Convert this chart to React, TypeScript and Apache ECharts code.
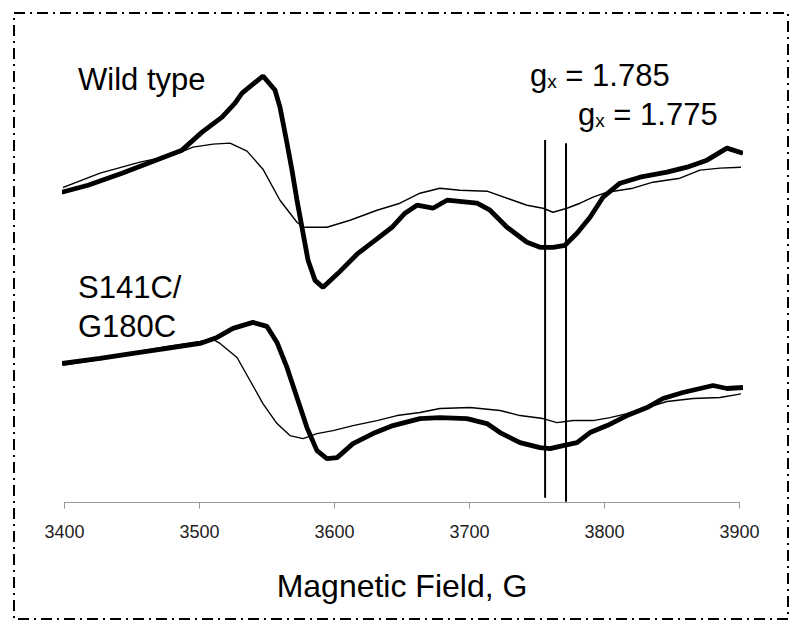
import React, { useEffect, useRef } from "react";
import * as echarts from "echarts";

// Magnetic field (G) tick labels
const xTicks = [3400, 3500, 3600, 3700, 3800, 3900];

// Wild type, thick trace (field G, signal a.u.)
const wtBoldField = [3397.9, 3417.4, 3442.6, 3461.9, 3487.0, 3501.9, 3516.7, 3526.3, 3531.5, 3547.0, 3555.9, 3559.6, 3564.8, 3568.5, 3572.2, 3575.9, 3580.4, 3585.6, 3591.5, 3602.6, 3617.4, 3630.0, 3642.6, 3652.2, 3661.1, 3672.9, 3683.3, 3705.6, 3715.2, 3727.8, 3742.6, 3752.2, 3761.9, 3770.7, 3779.6, 3789.3, 3798.9, 3811.5, 3826.3, 3846.3, 3861.1, 3875.9, 3890.7, 3902.6];
const wtBoldSignal = [310, 317, 329, 339, 352, 370, 385, 399, 409, 426, 412, 395, 359, 332, 302, 275, 242, 222, 215, 229, 249, 262, 275, 289, 297, 294, 302, 299, 292, 275, 260, 255, 255, 257, 269, 285, 305, 319, 325, 330, 335, 342, 354, 349];

// Wild type, thin trace
const wtThinField = [3397.4, 3426.3, 3455.9, 3480.4, 3495.2, 3510.0, 3522.6, 3535.2, 3547.0, 3559.6, 3572.2, 3576.7, 3594.4, 3611.5, 3631.5, 3648.5, 3663.3, 3678.1, 3692.9, 3713.0, 3730.0, 3742.6, 3754.4, 3761.9, 3772.2, 3781.9, 3791.5, 3801.9, 3821.1, 3835.9, 3855.9, 3870.7, 3885.6, 3902.6];
const wtThinSignal = [314, 329, 340, 347, 355, 358, 359, 351, 333, 302, 280, 275, 275, 282, 292, 299, 309, 314, 312, 311, 303, 297, 294, 290, 294, 299, 305, 310, 314, 320, 324, 332, 334, 335];

// S141C/G180C, thick trace
const mutBoldField = [3398.1, 3426.3, 3450.7, 3475.9, 3500.4, 3513.0, 3524.8, 3539.6, 3550.0, 3557.4, 3564.8, 3572.2, 3579.6, 3587.0, 3594.4, 3601.9, 3613.7, 3628.5, 3643.3, 3663.3, 3678.1, 3698.1, 3712.9, 3722.6, 3737.4, 3752.2, 3759.6, 3769.3, 3779.6, 3789.3, 3801.9, 3816.7, 3831.5, 3843.3, 3858.1, 3880.4, 3890.7, 3902.6];
const mutBoldSignal = [139, 144, 149, 154, 159, 165, 174, 180, 176, 160, 135, 105, 75, 52, 44, 45, 59, 69, 77, 84, 85, 84, 79, 70, 60, 55, 54, 57, 60, 70, 77, 87, 95, 104, 110, 117, 114, 115];

// S141C/G180C, thin trace
const mutThinField = [3398.1, 3426.3, 3450.7, 3475.9, 3500.4, 3510.0, 3515.2, 3527.8, 3537.4, 3547.0, 3557.4, 3567.0, 3576.7, 3587.0, 3598.9, 3613.7, 3631.5, 3646.3, 3663.3, 3678.1, 3700.4, 3722.6, 3737.4, 3754.4, 3764.8, 3776.7, 3791.5, 3804.1, 3816.7, 3831.5, 3846.3, 3865.6, 3885.6, 3902.6];
const mutThinSignal = [137, 143, 150, 156, 161, 163, 159, 145, 122, 99, 79, 67, 64, 69, 72, 77, 82, 87, 90, 94, 95, 92, 87, 84, 80, 82, 82, 85, 89, 95, 101, 104, 105, 109];

// g-value marker lines (field G, signal span)
const markerFields = [3756, 3771.5];
const markerTops = [362, 359];
const markerBottoms = [5, 1];

const FONT = "'Liberation Sans', Arial, sans-serif";

function pairs(xs: number[], ys: number[]) {
  return xs.map((x, i) => [x, ys[i]]);
}

export default function App() {
  const ref = useRef<HTMLDivElement>(null);
  useEffect(() => {
    if (!ref.current) return;
    const chart = echarts.init(ref.current, undefined, { renderer: "svg" });
    const bold = { color: "#000", width: 4.8 };
    const thin = { color: "#000", width: 1.4 };
    const gLabel = (v: string) => ({
      text: `{g|g}{x|x}{r| = ${v}}`,
      fill: "#000",
      rich: {
        g: { fontSize: 31, fontFamily: FONT, lineHeight: 31, fill: "#000" },
        x: { fontSize: 19, fontFamily: FONT, lineHeight: 13, verticalAlign: "bottom", fill: "#000" },
        r: { fontSize: 31, fontFamily: FONT, lineHeight: 31, fill: "#000" },
      },
    });
    chart.setOption({
      animation: false,
      backgroundColor: "#fff",
      grid: { left: 64.5, right: 60.5, top: 62, bottom: 129.3, containLabel: false },
      xAxis: {
        type: "value",
        min: xTicks[0],
        max: xTicks[xTicks.length - 1],
        interval: 100,
        name: "Magnetic Field, G",
        nameLocation: "middle",
        nameGap: 67,
        nameTextStyle: { fontSize: 32, fontFamily: FONT, color: "#000" },
        axisLine: { show: true, onZero: false, lineStyle: { color: "#999", width: 1 } },
        axisTick: { show: true, inside: false, length: 6, lineStyle: { color: "#999" } },
        axisLabel: { fontSize: 18, fontFamily: FONT, color: "#222", margin: 20, formatter: (v: number) => String(v) },
        splitLine: { show: false },
      },
      yAxis: { type: "value", min: 0, max: 440, show: false, splitLine: { show: false } },
      series: [
        { type: "line", data: pairs(wtBoldField, wtBoldSignal), showSymbol: false, lineStyle: bold, z: 2 },
        { type: "line", data: pairs(mutBoldField, mutBoldSignal), showSymbol: false, lineStyle: bold, z: 2 },
        { type: "line", data: pairs(wtThinField, wtThinSignal), showSymbol: false, lineStyle: thin, z: 3 },
        { type: "line", data: pairs(mutThinField, mutThinSignal), showSymbol: false, lineStyle: thin, z: 3 },
        ...markerFields.map((f, i) => ({
          type: "line",
          data: [[f, markerBottoms[i]], [f, markerTops[i]]],
          showSymbol: false,
          lineStyle: { color: "#000", width: 2 },
          z: 4,
        })),
      ],
      graphic: [
        {
          type: "rect",
          shape: { x: 14, y: 13, width: 774, height: 606 },
          style: { fill: "none", stroke: "#000", lineWidth: 2, lineDash: [11, 5, 2, 5] },
          silent: true,
        },
        { type: "text", x: 78, y: 79, style: { text: "Wild type", font: `31px ${FONT}`, fill: "#000", verticalAlign: "middle" } },
        { type: "text", x: 78, y: 287, style: { text: "S141C/", font: `31px ${FONT}`, fill: "#000", verticalAlign: "middle" } },
        { type: "text", x: 78, y: 326, style: { text: "G180C", font: `31px ${FONT}`, fill: "#000", verticalAlign: "middle" } },
        { type: "text", x: 530, y: 60, style: gLabel("1.785") },
        { type: "text", x: 578, y: 99, style: gLabel("1.775") },
      ],
    });
    return () => chart.dispose();
  }, []);
  return <div ref={ref} style={{ position: "fixed", left: 0, top: 0, width: 800, height: 632 }} />;
}
